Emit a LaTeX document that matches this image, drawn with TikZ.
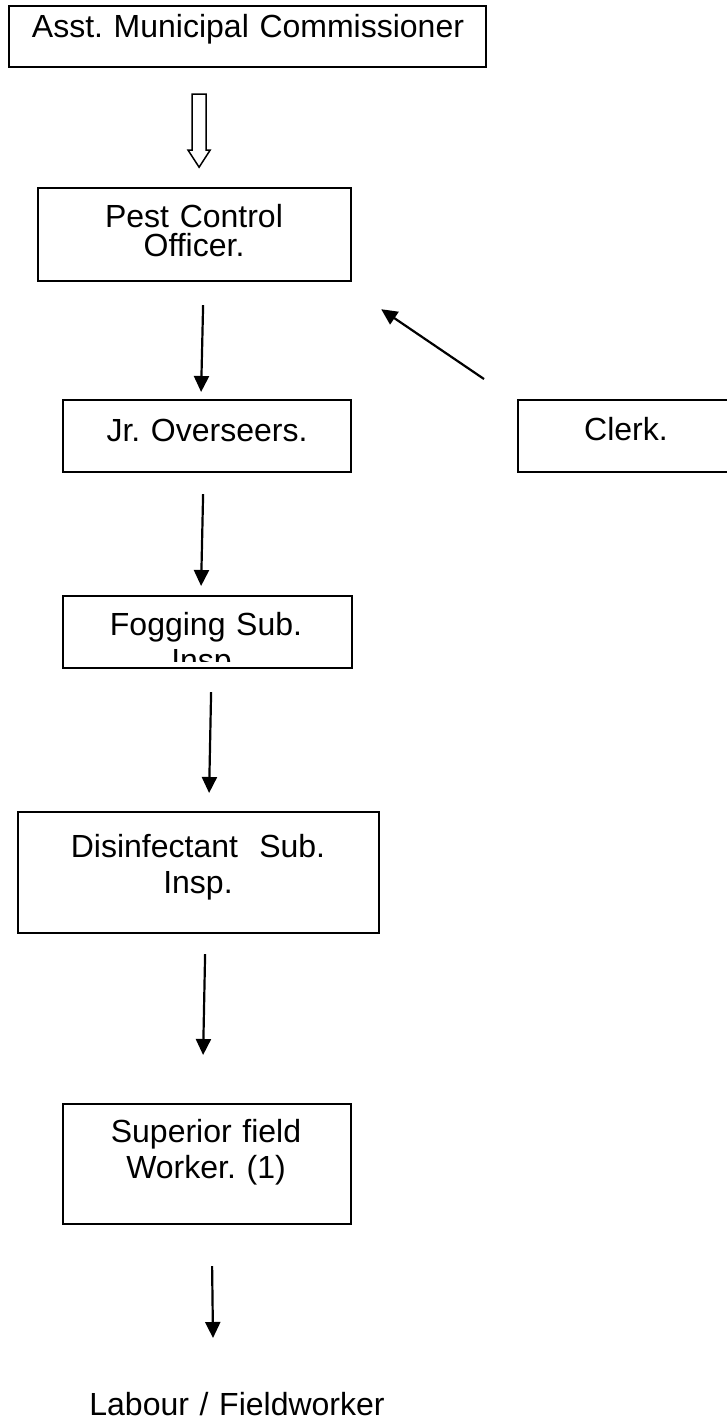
\documentclass[tikz,border=0pt]{standalone}
\usepackage{fontspec}
\setmainfont{Liberation Sans}
\frenchspacing
\usetikzlibrary{arrows.meta}

\tikzset{
	box/.style={draw, line width=2.2pt, anchor=north west, inner sep=0pt},
	lbl/.style={anchor=base, inner sep=0pt, align=center, text width=460pt, font=\fontsize{32}{36.7}\selectfont},
	arr/.style={line width=2.2pt, -{Triangle[width=15pt,length=16pt]}},
	hollow/.style={line width=1.5pt, fill=white}
}

\begin{document}
\begin{tikzpicture}[x=1pt,y=-1pt]
	\useasboundingbox (0,0) rectangle (726,1425);

	% boxes
	\node[box, minimum width=477pt, minimum height=61pt] (amc) at (8,5) {};
	\node[box, minimum width=313pt, minimum height=93pt] (pco) at (37,187) {};
	\node[box, minimum width=288pt, minimum height=72pt] (jr) at (62,399) {};
	\node[box, minimum width=218pt, minimum height=72pt] (clerk) at (517,399) {};
	\node[box, minimum width=289pt, minimum height=72pt] (fog) at (62,595) {};
	\node[box, minimum width=361pt, minimum height=121pt] (dis) at (17,811) {};
	\node[box, minimum width=288pt, minimum height=120pt] (sup) at (62,1103) {};

	% label
	\node[lbl] (amctext) at (248,37) {Asst. Municipal Commissioner};
	\node[lbl, font=\fontsize{32}{29.3}\selectfont] (pcotext) at (194,227) {Pest Control\\Officer.};
	\node[lbl] (jrtext) at (207,441) {Jr. Overseers.};
	\node[lbl] (clerktext) at (626,440) {Clerk.};
	\begin{scope}
		% text cut off inside the box
		\clip (fog.north west) rectangle ([yshift=8pt]fog.south east);
		\node[lbl] (fogtext) at (206,635) {Fogging Sub.\\Insp.};
	\end{scope}
	\node[lbl] (distext) at (198,857) {Disinfectant~ Sub.\\Insp.};
	\node[lbl] (suptext) at (206,1142) {Superior field\\Worker. (1)};
	\node[lbl] (labour) at (237,1415) {Labour / Fieldworker};

	% arrows
	\draw[hollow] ([xshift=-55.5pt,yshift=-26pt]amc.south) -- ++(14,0) -- ++(0,56) -- ++(4,0)
		-- ++(-11,17) -- ++(-11,-17) -- ++(4,0) -- cycle;
	\draw[arr] ([xshift=8.5pt,yshift=-23pt]pco.south) -- ([xshift=-6pt,yshift=7pt]jr.north);
	\draw[arr] ([xshift=-33pt,yshift=20pt]clerk.north west) -- ([xshift=29pt,yshift=-27pt]pco.south east);
	\draw[arr] ([xshift=-4pt,yshift=-21pt]jr.south) -- ([xshift=-6.5pt,yshift=9pt]fog.north);
	\draw[arr] ([xshift=3.5pt,yshift=-23pt]fog.south) -- ([xshift=10.5pt,yshift=18pt]dis.north);
	\draw[arr] ([xshift=6.5pt,yshift=-20pt]dis.south) -- ([xshift=-4pt,yshift=48pt]sup.north);
	\draw[arr] ([xshift=5pt,yshift=-41pt]sup.south) -- ([xshift=-24pt,yshift=77pt]labour.base);
\end{tikzpicture}
\end{document}
